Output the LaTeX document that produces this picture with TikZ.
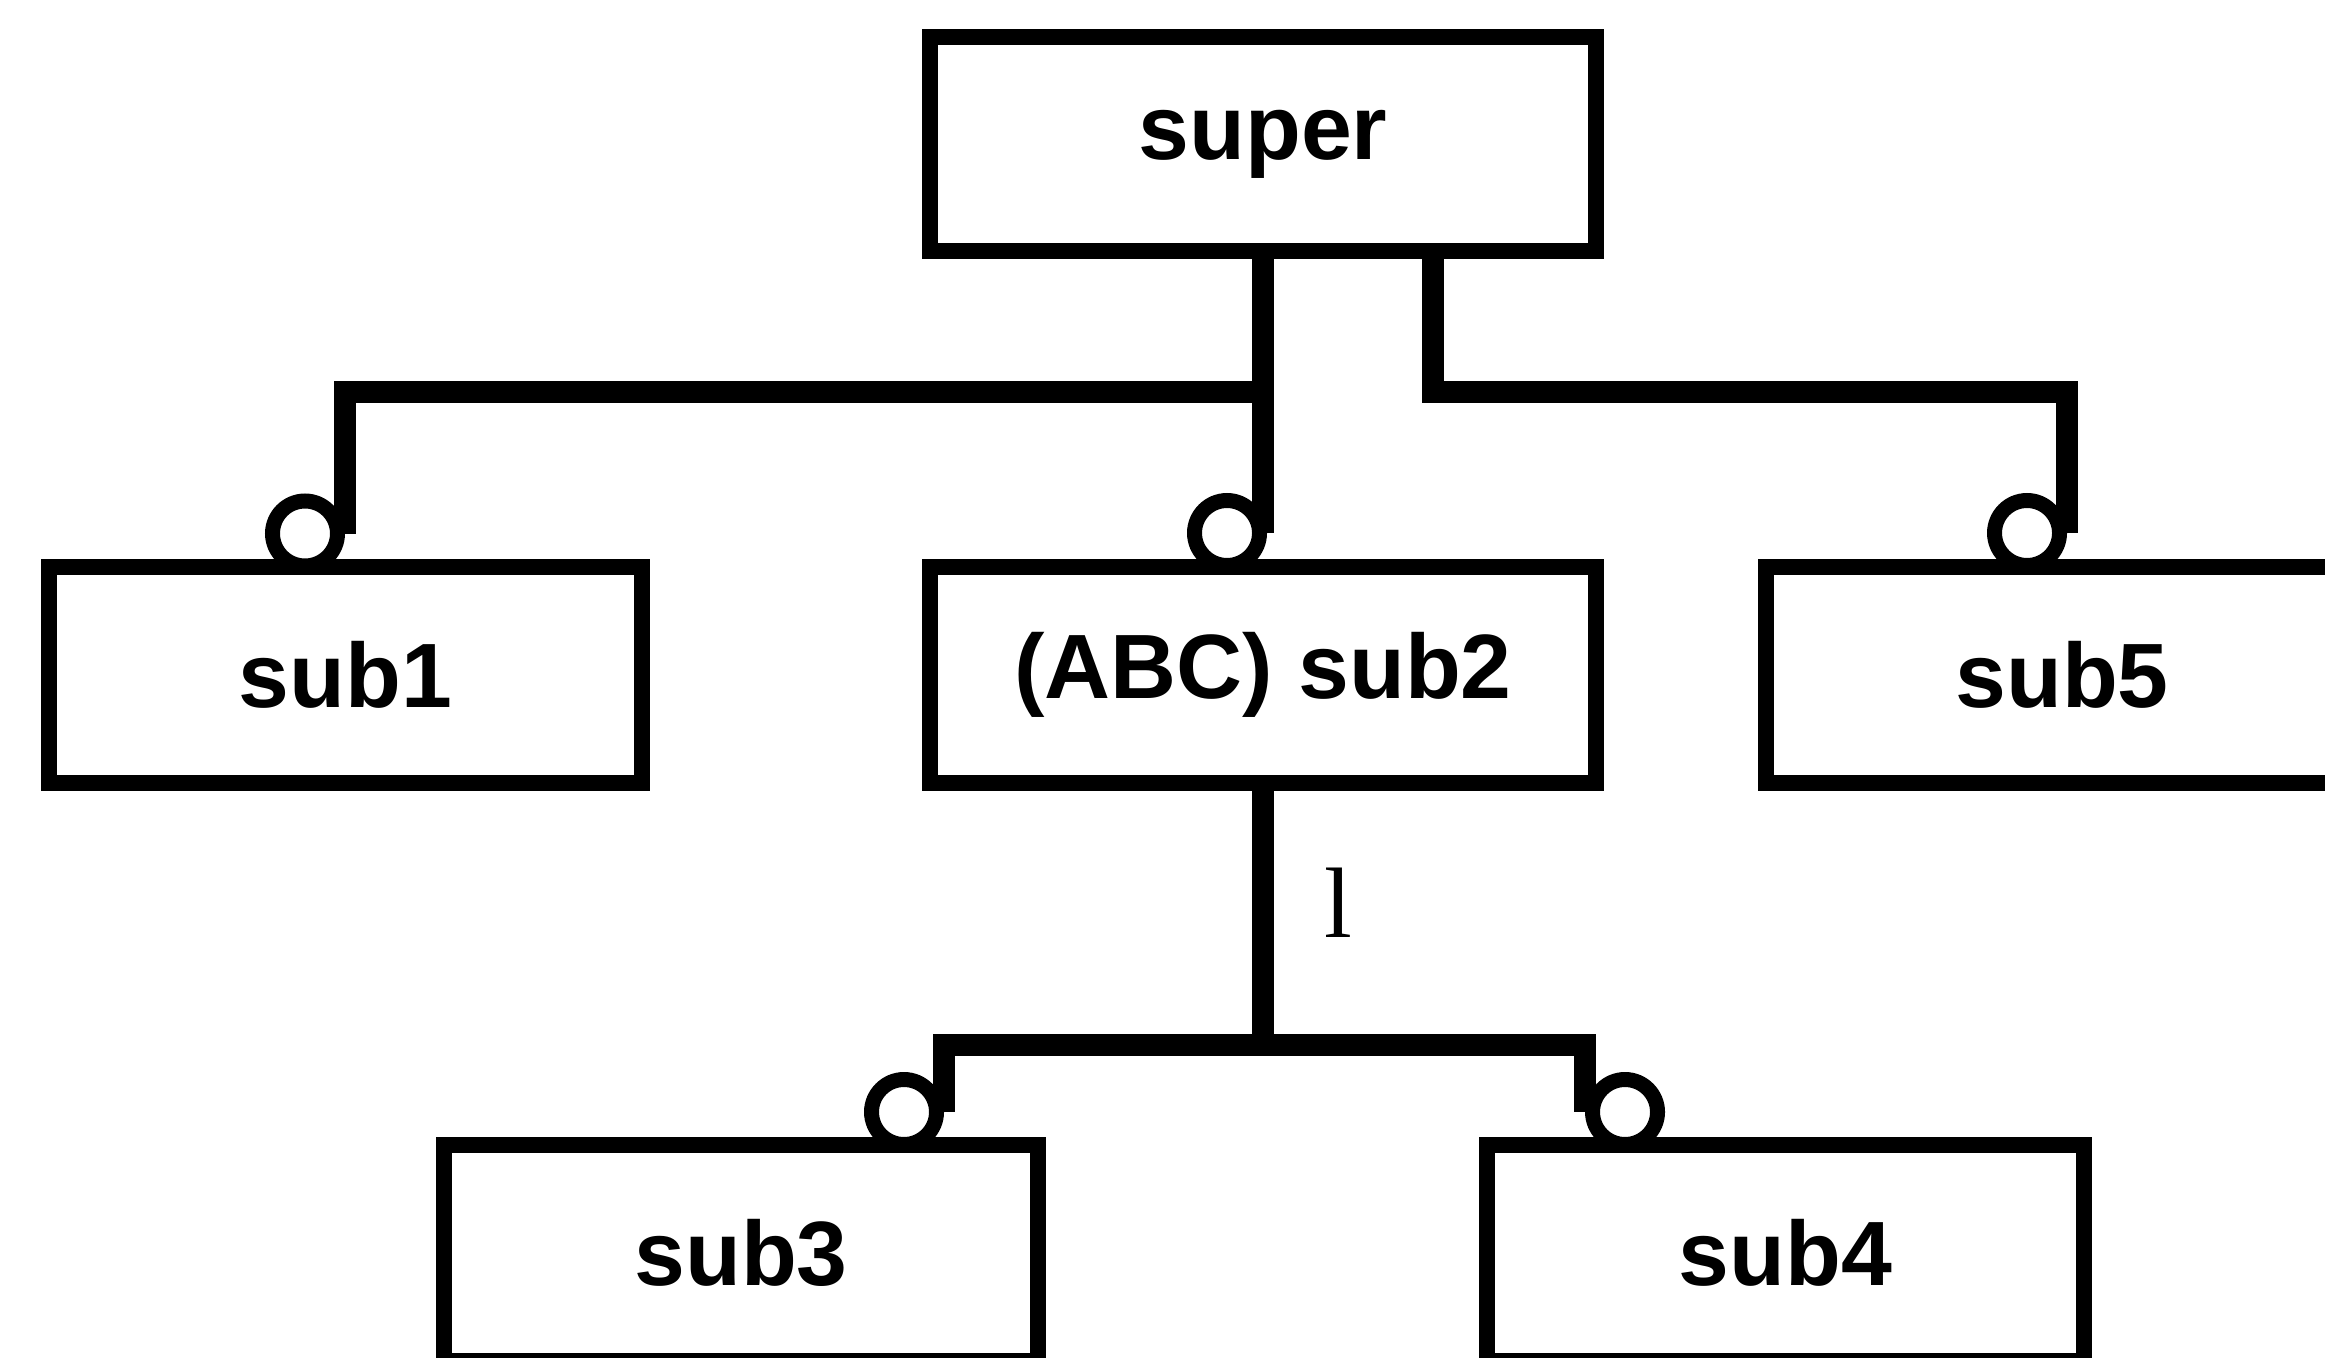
\documentclass[tikz,border=0pt]{standalone}
\usepackage{fontspec}
\setmainfont{Liberation Sans}
\newfontfamily\lblfont{Liberation Serif}

\begin{document}
\begin{tikzpicture}[
        box/.style = {draw, rectangle, line width=0.16cm, minimum width=5.93cm, minimum height=2.16cm, inner sep=0pt, font=\fontsize{26}{30}\selectfont\bfseries},
        wide/.style = {box, minimum width=6.66cm},
        ring/.style = {draw, circle, line width=0.15cm, minimum size=0.65cm, inner sep=0pt},
        link/.style = {line width=0.22cm, line join=miter},
        lbl/.style = {font=\fontsize{28.5}{32}\selectfont\lblfont}
        ]
        \useasboundingbox (0,0) rectangle (23.25,-13.57);

        \node[wide, minimum height=2.14cm] (super) at (12.63,-1.44) {super};
        \node[box] (sub1) at (3.455,-6.75) {sub1};
        \node[wide] (sub2) at (12.63,-6.75) {(ABC) sub2};
        \node[box] (sub5) at (20.62,-6.75) {sub5};
        \node[box, minimum width=5.94cm] (sub3) at (7.41,-12.53) {sub3};
        \node[box, minimum width=5.97cm] (sub4) at (17.855,-12.53) {sub4};

        % circles on top of the sub boxes
        \node[ring] (r1) at (3.05,-5.335) {};
        \node[ring] (r2) at (12.27,-5.33) {};
        \node[ring] (r5) at (20.27,-5.33) {};
        \node[ring] (r3) at (9.04,-11.12) {};
        \node[ring] (r4) at (16.25,-11.12) {};

        \coordinate (hub) at (12.63,-3.92);
        \coordinate (fork) at (14.33,-3.92);
        \coordinate (hub2) at (12.63,-10.45);

        \draw[link] (super.south) -- (super.south |- r2.east);
        \draw[link] (hub) -| (r1.east);
        \draw[link] (super.south -| fork) -- (fork) -| (r5.east);

        \draw[link] (sub2.south) -- node[lbl, pos=0.44, xshift=0.75cm] (mult) {l} (hub2);
        \draw[link] (r3.east) |- (hub2) -| (r4.west);
    \end{tikzpicture}
\end{document}
